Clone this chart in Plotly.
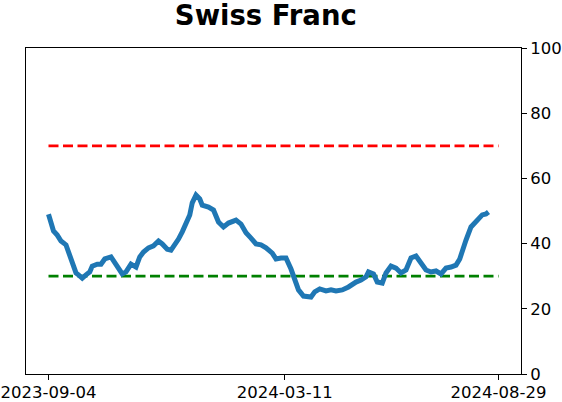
import plotly.graph_objects as go

dates = [
    "2023-09-04", "2023-09-06", "2023-09-08", "2023-09-11", "2023-09-14", "2023-09-18",
    "2023-09-20", "2023-09-22", "2023-09-24", "2023-09-26", "2023-09-28", "2023-10-01",
    "2023-10-04", "2023-10-07", "2023-10-09", "2023-10-13", "2023-10-16", "2023-10-19",
    "2023-10-24", "2023-10-27", "2023-10-30", "2023-11-02", "2023-11-05", "2023-11-09",
    "2023-11-13", "2023-11-16", "2023-11-19", "2023-11-23", "2023-11-27", "2023-12-01",
    "2023-12-04", "2023-12-08", "2023-12-11", "2023-12-15", "2023-12-17", "2023-12-20",
    "2023-12-23", "2023-12-26", "2023-12-28", "2023-12-31", "2024-01-03", "2024-01-05",
    "2024-01-10", "2024-01-14", "2024-01-18", "2024-01-22", "2024-01-26", "2024-02-01",
    "2024-02-05", "2024-02-09", "2024-02-13", "2024-02-17", "2024-02-21", "2024-02-25",
    "2024-03-01", "2024-03-04", "2024-03-08", "2024-03-12", "2024-03-16", "2024-03-19",
    "2024-03-22", "2024-03-26", "2024-04-01", "2024-04-04", "2024-04-08", "2024-04-13",
    "2024-04-17", "2024-04-21", "2024-04-26", "2024-05-01", "2024-05-04", "2024-05-07",
    "2024-05-11", "2024-05-15", "2024-05-17", "2024-05-21", "2024-05-24", "2024-05-28",
    "2024-05-31", "2024-06-04", "2024-06-08", "2024-06-12", "2024-06-16", "2024-06-20",
    "2024-06-24", "2024-06-28", "2024-07-02", "2024-07-06", "2024-07-10", "2024-07-14",
    "2024-07-18", "2024-07-22", "2024-07-26", "2024-07-29", "2024-07-31", "2024-08-03",
    "2024-08-07", "2024-08-10", "2024-08-13", "2024-08-16", "2024-08-19", "2024-08-21",
]
values = [
    49.0, 46.6, 43.9, 42.6, 40.8, 39.6,
    37.4, 35.0, 33.4, 31.0, 30.4, 29.4,
    30.4, 31.3, 33.1, 33.7, 33.7, 35.3,
    35.9, 34.0, 31.9, 30.7, 31.3, 33.7,
    32.8, 35.9, 37.4, 38.7, 39.3, 40.8,
    39.9, 38.3, 38.0, 39.9, 41.4, 43.6,
    46.6, 48.8, 52.5, 54.9, 53.7, 51.8,
    51.2, 50.3, 46.6, 45.1, 46.3, 47.2,
    46.0, 43.3, 41.7, 39.9, 39.6, 38.7,
    37.1, 35.3, 35.6, 35.6, 32.2, 28.8,
    25.8, 23.9, 23.6, 25.2, 26.1, 25.5,
    25.8, 25.5, 25.8, 26.7, 27.6, 28.2,
    28.8, 29.8, 31.3, 30.7, 28.2, 27.9,
    31.0, 33.1, 32.5, 31.0, 31.9, 35.6,
    36.2, 34.0, 31.9, 31.3, 31.6, 30.7,
    32.5, 32.8, 33.4, 35.3, 38.0, 41.1,
    45.1, 46.3, 47.2, 48.8, 49.1, 49.7,
]
band_dates = ["2023-09-04", "2024-08-29"]
upper_level = 70
lower_level = 30
title_text = "Swiss Franc"
tick_dates = ["2023-09-04", "2024-03-11", "2024-08-29"]
y_ticks = [0, 20, 40, 60, 80, 100]

fig = go.Figure()
fig.add_trace(go.Scatter(x=band_dates, y=[upper_level, upper_level], mode="lines",
                         line=dict(color="#ff0000", width=2.7, dash="10px,4.5px"),
                         showlegend=False, hoverinfo="skip"))
fig.add_trace(go.Scatter(x=band_dates, y=[lower_level, lower_level], mode="lines",
                         line=dict(color="#008000", width=2.7, dash="10px,4.5px"),
                         showlegend=False, hoverinfo="skip"))
fig.add_trace(go.Scatter(x=dates, y=values, mode="lines",
                         line=dict(color="#1f77b4", width=5),
                         showlegend=False))

font_family = "DejaVu Sans"
fig.update_layout(
    width=562, height=402,
    margin=dict(l=26, r=41, t=48, b=28, autoexpand=False),
    paper_bgcolor="white", plot_bgcolor="white",
    font=dict(family=font_family, size=16.5, color="black"),
    title=dict(text="<b>" + title_text + "</b>", x=0.473, xref="container", xanchor="center",
               y=1 - 15 / 402, yref="container", yanchor="middle",
               font=dict(family=font_family, size=27.5, color="black")),
)
fig.update_xaxes(
    type="date", range=["2023-08-17", "2024-09-16"], automargin=False,
    tickvals=tick_dates, ticktext=tick_dates, ticklabelstandoff=-2,
    showgrid=False, zeroline=False,
    showline=True, linecolor="black", linewidth=1, mirror=True,
    ticks="outside", ticklen=5, tickcolor="black", tickwidth=1,
    tickfont=dict(family=font_family, size=16.5, color="black"),
)
fig.update_yaxes(
    range=[0, 100], side="right", tickvals=y_ticks, automargin=False,
    showgrid=False, zeroline=False,
    showline=True, linecolor="black", linewidth=1, mirror=True,
    ticks="outside", ticklen=5, tickcolor="black", tickwidth=1,
    tickfont=dict(family=font_family, size=16.5, color="black"),
)
fig.write_html("out.html")
